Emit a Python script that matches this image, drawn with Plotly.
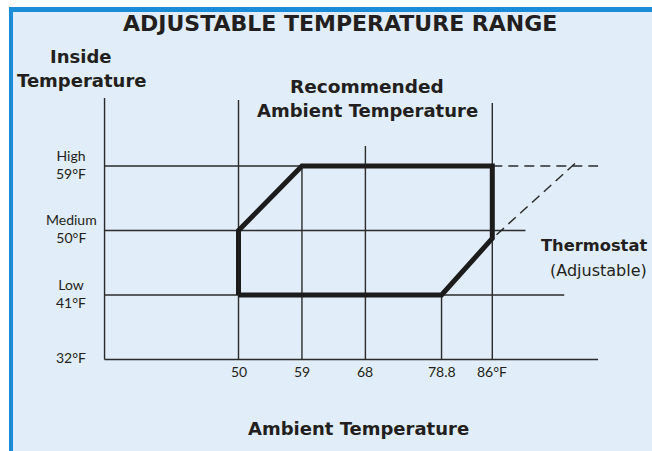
import plotly.graph_objects as go

W, H = 652, 451

# ---------------- data ----------------
x_ticks = [50, 59, 68, 78.8, 86]
x_tick_labels = ["50", "59", "68", "78.8", "86°F"]
y_ticks = [32, 41, 50, 59]
y_tick_labels = ["32°F", "Low<br>41°F", "Medium<br>50°F", "High<br>59°F"]

# recommended operating envelope (thick outline)
range_x = [50, 50, 59, 86, 86, 78.8, 50]
range_y = [41, 50, 59, 59, 48.9, 41, 41]

# adjustable thermostat extension (dashed)
adjust_top_x = [86, 101]
adjust_top_y = [59, 59]
adjust_diag_x = [86.6, 98]
adjust_diag_y = [49.4, 59.6]

# grid framework
axis_left = 31
axis_right = 101
left_top = 68.5
h_line_ends = {32: 101, 41: 96.2, 50: 90.7, 59: 86}
v_line_tops = {50: 68.2, 59: 59, 68: 61.8, 78.8: 41, 86: 67.8}

# ---------------- scales ----------------
XPX, X0PX = 7.05, 238.5          # px per unit, pixel of 50
YPX, Y0PX = 7.167, 262.75        # px per unit, pixel of 45.5
x_range = [50 - X0PX / XPX, 50 + (W - X0PX) / XPX]
y_range = [45.5 - (H - Y0PX) / YPX, 45.5 + Y0PX / YPX]

INK = "#231f20"
LINE = "#2b2b2b"
BG = "#e1edf8"
BLUE = "#1a8cd8"
FONT = "Lato"
BFONT = "DejaVu Sans"

fig = go.Figure()

def seg(xs, ys, width=1.4, color=LINE, dash=None):
    fig.add_trace(go.Scatter(x=xs, y=ys, mode="lines",
                             line=dict(color=color, width=width, dash=dash),
                             hoverinfo="skip", showlegend=False))

# axes framework
seg([axis_left, axis_left], [32, left_top])
for yv, xe in h_line_ends.items():
    seg([axis_left, xe], [yv, yv])
for xv, yt in v_line_tops.items():
    seg([xv, xv], [32, yt])

# dashed adjustable lines
seg(adjust_top_x, adjust_top_y, width=1.5, dash="10px,6px")
seg(adjust_diag_x, adjust_diag_y, width=1.5, dash="10px,6px")

# thick envelope
fig.add_trace(go.Scatter(x=range_x, y=range_y, mode="lines",
                         line=dict(color="#1c1c1c", width=5),
                         hoverinfo="skip", showlegend=False))

def P(x, y):
    return x / W, 1 - y / H

anns = []
def text(x, y, s, size, bold=False, anchor="center", family=None):
    px, py = P(x, y)
    fam = family or (BFONT if bold else FONT)
    anns.append(dict(x=px, y=py, xref="paper", yref="paper", text=(f"<b>{s}</b>" if bold else s),
                     showarrow=False, xanchor=anchor, yanchor="middle",
                     font=dict(family=fam, size=size, color=INK)))

text(340, 23, "ADJUSTABLE TEMPERATURE RANGE", 22, bold=True)
text(81, 57, "Inside", 18, bold=True)
text(81, 81, "Temperature", 18, bold=True)
text(367, 87, "Recommended", 18.5, bold=True)
text(367, 111, "Ambient Temperature", 18, bold=True)
text(358, 428, "Ambient Temperature", 18, bold=True)
text(539, 245, "Thermostat", 16.3, bold=True, anchor="left")
text(548, 270, "(Adjustable)", 16, anchor="left", family="DejaVu Sans")

# tick labels through data scale
for xv, lab in zip(x_ticks, x_tick_labels):
    anns.append(dict(x=xv, y=32, xref="x", yref="y", text=lab, showarrow=False,
                     xanchor="center", yanchor="middle", yshift=-12,
                     font=dict(family=FONT, size=14, color=INK)))
for yv, lab in zip(y_ticks, y_tick_labels):
    anns.append(dict(x=0, y=yv, xref="paper", yref="y", text=lab, showarrow=False,
                     xanchor="center", yanchor="middle", xshift=71, yshift=2,
                     font=dict(family=FONT, size=14, color=INK)))

shapes = [
    dict(type="rect", xref="paper", yref="paper", x0=0, x1=1, y0=0, y1=1,
         fillcolor="#ffffff", line=dict(width=0), layer="below"),
    dict(type="rect", xref="paper", yref="paper", x0=9 / W, x1=1, y0=0, y1=1 - 7 / H,
         fillcolor=BG, line=dict(width=0), layer="below"),
    dict(type="rect", xref="paper", yref="paper", x0=9 / W, x1=1, y0=1 - 12 / H, y1=1 - 7 / H,
         fillcolor=BLUE, line=dict(width=0), layer="below"),
    dict(type="rect", xref="paper", yref="paper", x0=9 / W, x1=13 / W, y0=0, y1=1 - 7 / H,
         fillcolor=BLUE, line=dict(width=0), layer="below"),
]

fig.update_layout(
    width=W, height=H, autosize=False,
    margin=dict(l=0, r=0, t=0, b=0, pad=0),
    paper_bgcolor="#ffffff", plot_bgcolor="rgba(0,0,0,0)",
    xaxis=dict(range=x_range, visible=False, fixedrange=True),
    yaxis=dict(range=y_range, visible=False, fixedrange=True),
    annotations=anns, shapes=shapes, showlegend=False,
)

fig.write_html("out.html", config={"displayModeBar": False},
               post_script="document.body.style.margin='0';document.body.style.overflow='hidden';")
